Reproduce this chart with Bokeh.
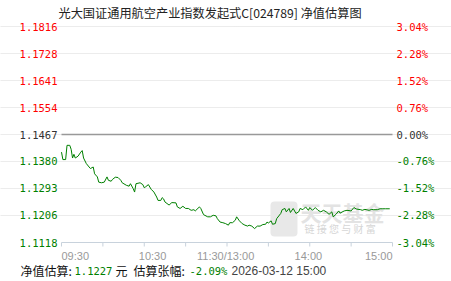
from bokeh.plotting import figure
from bokeh.models import Range1d, FixedTicker, Label
from bokeh.embed import file_html
from bokeh.resources import INLINE

# ---- data ----
title_text = "光大国证通用航空产业指数发起式C[024789] 净值估算图"
base_nav = 1.1467
minutes = [0, 1, 3, 4, 6, 7, 8, 9, 10, 12, 14, 15, 16, 18, 20, 21, 23, 24, 26, 27, 29, 31, 33, 34, 36, 37,
           39, 41, 43, 44, 47, 49, 50, 52, 53, 54, 57, 59, 60, 61, 63, 65, 67, 69, 70, 72, 73, 74, 75, 78,
           80, 83, 84, 86, 88, 90, 92, 94, 96, 97, 100, 101, 103, 106, 108, 110, 112, 113, 115, 117, 119,
           121, 122, 124, 126, 127, 129, 131, 133, 135, 136, 138, 140, 142, 144, 146, 148, 149, 150, 152,
           153, 155, 156, 159, 160, 162, 163, 165, 166, 168, 170, 172, 173, 175, 177, 179, 180, 182, 184,
           186, 188, 190, 192, 194, 196, 197, 199, 201, 202, 205, 207, 210, 212, 214, 217, 218, 220, 223,
           225, 226, 229, 231, 233, 235, 238]
nav = [1.1410, 1.1386, 1.1386, 1.1432, 1.1432, 1.1419, 1.1391, 1.1403, 1.1391, 1.1397, 1.1410, 1.1415,
       1.1391, 1.1373, 1.1362, 1.1357, 1.1362, 1.1340, 1.1330, 1.1313, 1.1311, 1.1313, 1.1330, 1.1319,
       1.1316, 1.1322, 1.1329, 1.1328, 1.1319, 1.1311, 1.1303, 1.1300, 1.1308, 1.1292, 1.1281, 1.1308,
       1.1311, 1.1305, 1.1295, 1.1298, 1.1305, 1.1290, 1.1281, 1.1265, 1.1254, 1.1254, 1.1263, 1.1259,
       1.1249, 1.1239, 1.1247, 1.1246, 1.1233, 1.1228, 1.1235, 1.1228, 1.1228, 1.1222, 1.1224, 1.1220,
       1.1233, 1.1228, 1.1208, 1.1201, 1.1201, 1.1206, 1.1204, 1.1195, 1.1184, 1.1182, 1.1179, 1.1174,
       1.1182, 1.1182, 1.1190, 1.1201, 1.1188, 1.1179, 1.1174, 1.1171, 1.1174, 1.1171, 1.1163, 1.1171,
       1.1171, 1.1176, 1.1177, 1.1184, 1.1181, 1.1188, 1.1177, 1.1179, 1.1195, 1.1212, 1.1224, 1.1228,
       1.1217, 1.1228, 1.1215, 1.1228, 1.1212, 1.1217, 1.1228, 1.1224, 1.1233, 1.1222, 1.1231, 1.1222,
       1.1231, 1.1222, 1.1217, 1.1222, 1.1217, 1.1209, 1.1217, 1.1201, 1.1209, 1.1220, 1.1213, 1.1220,
       1.1222, 1.1220, 1.1231, 1.1226, 1.1224, 1.1222, 1.1225, 1.1222, 1.1225, 1.1224, 1.1224, 1.1227,
       1.1227, 1.1227, 1.1227]
y_levels = [1.1816, 1.1728, 1.1641, 1.1554, 1.1467, 1.1380, 1.1293, 1.1206, 1.1118]
y_labels = ["1.1816", "1.1728", "1.1641", "1.1554", "1.1467", "1.1380", "1.1293", "1.1206", "1.1118"]
pct_labels = ["3.04%", "2.28%", "1.52%", "0.76%", "0.00%", "-0.76%", "-1.52%", "-2.28%", "-3.04%"]
x_ticks = [0, 30, 60, 90, 120, 150, 180, 210, 240]
x_label_pos = [0, 66, 119, 179, 240]
x_labels = ["09:30", "10:30", "11:30/13:00", "14:00", "15:00"]
est_nav = "1.1227"
est_chg = "-2.09%"
est_time = "2026-03-12 15:00"

RED = "#ff0000"
GREEN = "#008000"
DARK = "#333333"
MONO = "DejaVu Sans Mono"
CJK = "Noto Sans CJK SC"

W, H = 451, 281
PL, PR, PT, PB = 61, 392, 26, 242          # plot area in canvas pixels
x0, x1 = x_ticks[0], x_ticks[-1]
ylo, yhi = y_levels[-1], y_levels[0]
kx = (x1 - x0) / (PR - PL)                   # minutes per pixel
ky = (yhi - ylo) / (PB - PT)                 # value per pixel

p = figure(width=W, height=H, output_backend="svg", toolbar_location=None,
           x_range=Range1d(x0 - PL * kx, x1 + (W - PR) * kx),
           y_range=Range1d(ylo - (H - PB) * ky, yhi + PT * ky),
           min_border=0)
p.outline_line_color = None
p.background_fill_color = "white"
p.border_fill_color = "white"
p.axis.visible = False
p.xgrid.visible = False

p.ygrid.ticker = FixedTicker(ticks=y_levels[:-1])
p.ygrid.bounds = (x0, x1)
p.ygrid.grid_line_color = "#d8d8d8"
p.ygrid.grid_line_dash = "1 1"
p.ygrid.grid_line_width = 1


def sy(cy):
    return H - cy


# watermark
p.add_layout(Label(x=270, y=sy(201), x_units="screen", y_units="screen", text="\u3000",
                   text_font=CJK, text_font_size="17px", text_color="#e8e8e8",
                   background_fill_color="#e8e8e8", border_radius=4, padding=5,
                   text_align="left", text_baseline="top", level="underlay"))
p.add_layout(Label(x=300, y=sy(196), x_units="screen", y_units="screen", text="天天基金",
                   text_font=CJK, text_font_size="21px", text_font_style="bold",
                   text_color="#e3e3e3", text_align="left", text_baseline="top", level="underlay"))
p.add_layout(Label(x=304, y=sy(220), x_units="screen", y_units="screen", text="链 接 您 与 财 富",
                   text_font=CJK, text_font_size="10px",
                   text_color="#d6d6d6", text_align="left", text_baseline="top", level="underlay"))

# x axis line and ticks
AXC = "#c8d2dc"
p.segment(x0=[x0], y0=[ylo], x1=[x1], y1=[ylo], line_color=AXC, line_width=1)
p.segment(x0=x_ticks, y0=[ylo] * len(x_ticks), x1=x_ticks, y1=[ylo - 4 * ky] * len(x_ticks),
          line_color=AXC, line_width=1)

# base (previous NAV) line
p.segment(x0=[x0], y0=[base_nav], x1=[x1], y1=[base_nav], line_color="#999999", line_width=1.5)

p.line(minutes, nav, line_color=GREEN, line_width=1)

for lvl, lab, pct in zip(y_levels, y_labels, pct_labels):
    col = RED if lvl > base_nav else (DARK if lvl == base_nav else GREEN)
    p.add_layout(Label(x=57, y=lvl, x_units="screen", y_units="data", text=lab,
                       text_font=MONO, text_font_size="10.5px", text_color=col,
                       text_align="right", text_baseline="middle"))
    p.add_layout(Label(x=396, y=lvl, x_units="screen", y_units="data", text=pct,
                       text_font=MONO, text_font_size="10.5px", text_color=col,
                       text_align="left", text_baseline="middle"))

aligns = ["left", "center", "center", "center", "right"]
for xp, lab, al in zip(x_label_pos, x_labels, aligns):
    p.add_layout(Label(x=xp, y=sy(255), x_units="data", y_units="screen", text=lab,
                       text_font="Liberation Sans", text_font_size="11px", text_color="#999999",
                       text_align=al, text_baseline="middle"))

# title
p.add_layout(Label(x=58, y=sy(12), x_units="screen", y_units="screen", text=title_text,
                   text_font=CJK, text_font_size="12.2px", text_color="#222222",
                   text_align="left", text_baseline="middle"))

# footer
footer = [(20, "净值估算:", "#111111", CJK, "12px"),
          (74, est_nav, GREEN, MONO, "10.5px"),
          (115, "元", "#111111", CJK, "12px"),
          (133, "估算张幅:", "#111111", CJK, "12px"),
          (189, est_chg, GREEN, MONO, "10.5px"),
          (231, est_time, "#444444", "Liberation Sans", "12px")]
for xs, txt, col, fnt, fs in footer:
    p.add_layout(Label(x=xs, y=sy(270), x_units="screen", y_units="screen", text=txt,
                       text_font=fnt, text_font_size=fs, text_color=col,
                       text_align="left", text_baseline="middle"))

open("out.html", "w").write(file_html(p, INLINE))
